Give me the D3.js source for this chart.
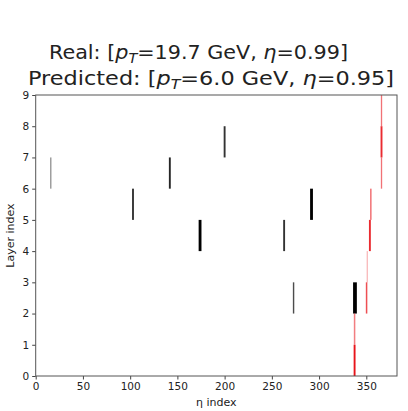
<!DOCTYPE html>
<html>
<head>
<meta charset="utf-8">
<script src="https://cdn.jsdelivr.net/npm/d3@7"></script>
<style>
  body { margin: 0; background: #fff; }
  text { font-family: "DejaVu Sans", sans-serif; fill: #222; }
</style>
</head>
<body>
<svg id="chart" width="408" height="411"></svg>
<script>
// real hits (black)
var realEta = [16, 103, 142, 174, 200, 263, 292, 273, 338];
var realLayer = [6, 5, 6, 4, 7, 4, 5, 2, 2];
var realWidth = [1.2, 2, 2, 3, 2, 2, 3, 1.5, 4];
var realShade = [0.5, 0.8, 0.85, 1, 0.8, 0.8, 1, 0.7, 1];

// predicted hits (red)
var predEta = [337.6, 337.6, 350.3, 351, 353.8, 354.8, 366.1, 366.1, 366.1];
var predLayer = [0, 1, 2, 3, 4, 5, 6, 7, 8];
var predWidth = [2, 1.6, 1.6, 1.2, 2, 1.6, 1.4, 2, 1.4];
var predShade = [1, 0.55, 0.75, 0.35, 0.9, 0.6, 0.6, 0.9, 0.6];

var xTicks = [0, 50, 100, 150, 200, 250, 300, 350];
var yTicks = [0, 1, 2, 3, 4, 5, 6, 7, 8, 9];

function draw() {
  var svg = d3.select("#chart");
  var mLeft = 35.7, mRight = 397, mTop = 95, mBottom = 376;

  var x = d3.scaleLinear().domain([0, 382.5]).range([mLeft, mRight]);
  var y = d3.scaleLinear().domain([0, 9]).range([mBottom, mTop]);

  function hits(eta, layer, width, shade, color, cls) {
    var rows = eta.map(function (e, i) {
      return { eta: e, layer: layer[i], w: width[i], s: shade[i] };
    });
    svg.append("g").selectAll("rect." + cls)
      .data(rows)
      .enter()
      .append("rect")
      .attr("class", cls)
      .attr("x", function (d) { return x(d.eta - d.w / 2); })
      .attr("width", function (d) { return x(d.w) - x(0); })
      .attr("y", function (d) { return y(d.layer + 1); })
      .attr("height", function (d) { return y(d.layer) - y(d.layer + 1); })
      .attr("fill", color)
      .attr("fill-opacity", function (d) { return d.s; });
  }

  hits(realEta, realLayer, realWidth, realShade, "#000", "real");
  hits(predEta, predLayer, predWidth, predShade, "#e8141a", "pred");

  // axes
  var xAxis = svg.append("g")
    .attr("transform", "translate(0," + mBottom + ")")
    .call(d3.axisBottom(x).tickValues(xTicks).tickSize(3.5).tickPadding(3));
  var yAxis = svg.append("g")
    .attr("transform", "translate(" + mLeft + ",0)")
    .call(d3.axisLeft(y).tickValues(yTicks).tickSize(3.5).tickPadding(3));
  [xAxis, yAxis].forEach(function (a) {
    a.selectAll("text").style("font-size", "10.5px").style("font-family", "DejaVu Sans").attr("fill", "#222");
    a.selectAll("line").attr("stroke", "#444");
    a.select(".domain").remove();
  });

  // frame
  svg.append("rect")
    .attr("x", mLeft).attr("y", mTop)
    .attr("width", mRight - mLeft).attr("height", mBottom - mTop)
    .attr("fill", "none").attr("stroke", "#555").attr("stroke-width", 1);

  // labels
  svg.append("text")
    .attr("x", (mLeft + mRight) / 2).attr("y", 406)
    .attr("text-anchor", "middle").style("font-size", "11px")
    .text("η index");
  svg.append("text")
    .attr("transform", "translate(14," + ((mTop + mBottom) / 2) + ") rotate(-90)")
    .attr("text-anchor", "middle").style("font-size", "11px")
    .text("Layer index");

  // title
  function titleLine(x0, yPos, len, pre, pt, eta) {
    var t = svg.append("text")
      .attr("x", x0).attr("y", yPos)
      .attr("textLength", len).attr("lengthAdjust", "spacingAndGlyphs")
      .style("font-size", "20px");
    t.append("tspan").text(pre + ": [");
    t.append("tspan").style("font-style", "italic").text("p");
    t.append("tspan").attr("baseline-shift", "-25%").style("font-size", "14px").style("font-style", "italic").text("T");
    t.append("tspan").text("=" + pt + " GeV, ");
    t.append("tspan").style("font-style", "italic").text("η");
    t.append("tspan").text("=" + eta + "]");
  }
  titleLine(49, 59, 299, "Real", "19.7", "0.99");
  titleLine(28, 85, 366, "Predicted", "6.0", "0.95");
}
draw();
</script>
</body>
</html>
